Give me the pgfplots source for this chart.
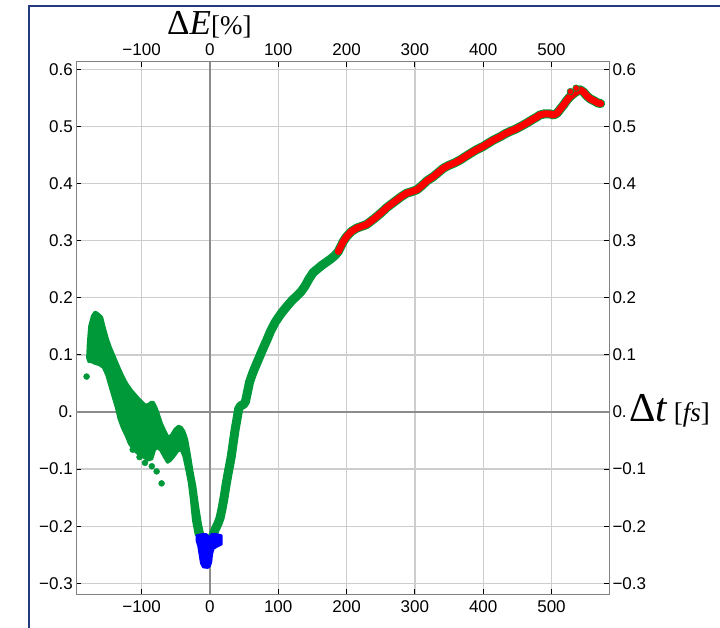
\documentclass[border=0pt]{standalone}
\usepackage{fontspec}
\setmainfont{Liberation Sans}
\newfontfamily\serif{Liberation Serif}
\usepackage{pgfplots}
\pgfplotsset{compat=1.18}
\definecolor{gg}{RGB}{0,153,57}
\definecolor{rr}{RGB}{255,0,0}
\definecolor{bb}{RGB}{0,0,255}
\definecolor{gridc}{RGB}{205,205,205}
\definecolor{zeroc}{RGB}{140,140,140}
\definecolor{framec}{RGB}{130,130,130}
\definecolor{borderc}{RGB}{35,60,125}
\begin{document}
\begin{tikzpicture}[x=1pt,y=1pt]
\pgfplotsset{
  common/.style={
    scale only axis, width=533.3pt, height=532.3pt,
    at={(76pt,33pt)}, anchor=south west,
    xmin=-196, xmax=584.6, ymin=-0.3187, ymax=0.6133,
    xtick={-100,0,100,200,300,400,500},
    xticklabels={−100,0,100,200,300,400,500},
    ytick={-0.3,-0.2,-0.1,0,0.1,0.2,0.3,0.4,0.5,0.6},
    yticklabels={−0.3,−0.2,−0.1,0.,0.1,0.2,0.3,0.4,0.5,0.6},
    ticklabel style={font=\fontsize{17}{20}\selectfont},
    xticklabel style={inner ysep=6pt},
    yticklabel style={inner xsep=3pt},
  }
}
\begin{axis}[common,
  axis line style={draw=framec, line width=1pt},
  tick align=inside, major tick length=5pt,
  tick style={black, line width=0.9pt},
  grid=major, major grid style={draw=gridc, line width=1.3pt},
  extra x ticks={0}, extra x tick labels={},
  extra y ticks={0}, extra y tick labels={},
  extra tick style={major tick length=0pt, major grid style={draw=zeroc, line width=1.3pt}},
]
% left green band
\addplot[fill=gg, draw=gg, line width=3pt, line join=round] coordinates {
(-179,0.095) (-178,0.12) (-176,0.15) (-172,0.168) (-168,0.175) (-163,0.171)
(-158.5,0.166) (-154,0.145) (-150,0.128) (-146,0.114) (-140,0.097) (-134,0.08)
(-128,0.064) (-122,0.05) (-115,0.038) (-107,0.027) (-100,0.018) (-95,0.012)
(-90,0.013) (-86,0.017) (-83,0.017) (-79,0.008) (-76,-0.002) (-71,-0.02)
(-66,-0.033) (-61,-0.045) (-56,-0.04) (-51,-0.03) (-46,-0.025) (-42,-0.027)
(-38,-0.034) (-34,-0.048) (-30,-0.075) (-26,-0.105) (-22,-0.13) (-18,-0.165)
(-14,-0.195) (-11,-0.212) (-20,-0.215)
(-24,-0.19) (-27,-0.155) (-30,-0.125) (-34,-0.1) (-38,-0.078) (-42,-0.066)
(-47,-0.068) (-53,-0.078) (-58,-0.085) (-62,-0.088) (-67,-0.078) (-72,-0.067)
(-77,-0.062) (-81,-0.066) (-85,-0.082) (-90,-0.084) (-96,-0.08) (-103,-0.075)
(-108,-0.07) (-114,-0.062) (-118,-0.055) (-122,-0.043) (-128,-0.028) (-133,-0.012)
(-137,0.008) (-142,0.028) (-146,0.044) (-151,0.065) (-156,0.078) (-162,0.083)
(-168,0.085) (-173,0.088) (-177,0.088)
} -- cycle;
\addplot[only marks, mark=*, mark size=3pt, color=gg] coordinates {
(-180.5,0.062) (-70.7,-0.125) (-78,-0.104) (-85,-0.095) (-95,-0.089) (-103,-0.079) (-113,-0.066)
};
% right green branch and underlay of red
\addplot[draw=gg, line width=9pt, line join=round, line cap=round] coordinates {
(3,-0.22) (8,-0.205) (12,-0.195) (15,-0.185) (18,-0.168) (21,-0.148) (24,-0.125)
(27,-0.105) (31,-0.08) (34,-0.055) (37,-0.03) (40,-0.01) (42,0.005) (45,0.011)
(49,0.013) (52,0.018) (55,0.035) (58,0.052) (62,0.066) (66,0.078) (71,0.092)
(77,0.109) (83,0.125) (89,0.142) (96,0.158) (104,0.172) (112,0.184) (120,0.195)
(127,0.203) (133,0.21) (139,0.22) (145,0.233) (151,0.244) (157,0.25) (163,0.256)
(170,0.262) (177,0.268) (183,0.274) (188,0.281)
(195,0.298) (200,0.307) (207,0.316) (215,0.322) (222,0.325) (229,0.328) (240,0.338)
(250,0.348) (259,0.358) (270,0.368) (280,0.377) (288,0.383) (296,0.386) (303,0.389)
(310,0.396) (318,0.405) (327,0.412) (335,0.42) (342,0.427) (350,0.432) (358,0.436)
(366,0.441) (375,0.448) (383,0.454) (390,0.459) (400,0.465) (408,0.471) (415,0.476)
(425,0.482) (432,0.487) (439,0.491) (447,0.495) (455,0.5) (464,0.506) (472,0.512)
(478,0.516) (483,0.52) (490,0.522) (497,0.522) (503,0.52) (508,0.523) (512,0.529)
(518,0.538) (522,0.545) (527,0.552) (533,0.558) (538,0.562) (542,0.564) (547,0.56)
(552,0.553) (557,0.548) (562,0.545) (568,0.541) (572,0.54)
};
% red
\addplot[draw=rr, line width=7pt, line join=round, line cap=round] coordinates {
(188,0.281)
(195,0.298) (200,0.307) (207,0.316) (215,0.322) (222,0.325) (229,0.328) (240,0.338)
(250,0.348) (259,0.358) (270,0.368) (280,0.377) (288,0.383) (296,0.386) (303,0.389)
(310,0.396) (318,0.405) (327,0.412) (335,0.42) (342,0.427) (350,0.432) (358,0.436)
(366,0.441) (375,0.448) (383,0.454) (390,0.459) (400,0.465) (408,0.471) (415,0.476)
(425,0.482) (432,0.487) (439,0.491) (447,0.495) (455,0.5) (464,0.506) (472,0.512)
(478,0.516) (483,0.52) (490,0.522) (497,0.522) (503,0.52) (508,0.523) (512,0.529)
(518,0.538) (522,0.545) (527,0.552) (533,0.558) (538,0.562) (542,0.564) (547,0.56)
(552,0.553) (557,0.548) (562,0.545) (568,0.541) (572,0.54)
};
\addplot[only marks, mark=*, mark size=3.3pt, draw=gg, fill=rr, line width=0.6pt] coordinates {
(527.6,0.561) (536,0.567)
};
% blue
\addplot[fill=bb, draw=bb, line width=2pt, line join=round] coordinates {
(-19.5,-0.216) (-12,-0.214) (-5,-0.214) (-1,-0.22) (2,-0.214) (10,-0.214)
(17,-0.216) (17,-0.232) (10,-0.236) (5,-0.24) (3,-0.25) (2,-0.262) (0,-0.27)
(-3,-0.273) (-10,-0.272) (-13,-0.265) (-15,-0.25) (-17,-0.235) (-19.5,-0.225)
} -- cycle;
\end{axis}
\begin{axis}[common,
  xticklabel pos=upper, yticklabel pos=right,
  axis line style={draw=none}, major tick length=0pt, tick style={draw=none},
]
\end{axis}
\node[anchor=base west, inner sep=0pt] at (167,592) {\serif\fontsize{35}{38}\selectfont Δ\textit{E}\fontsize{27}{30}\selectfont[\%]};
\node[anchor=base west, inner sep=0pt] at (629,205) {\serif\fontsize{41}{44}\selectfont Δ\textit{t}\hspace{6pt}\fontsize{27}{30}\selectfont[\textit{fs}]};
\draw[borderc, line width=2pt] (29.3,-20) -- (29.3,621) -- (760,621);
\pgfresetboundingbox
\useasboundingbox (0,0) rectangle (720,627);
\end{tikzpicture}
\end{document}
